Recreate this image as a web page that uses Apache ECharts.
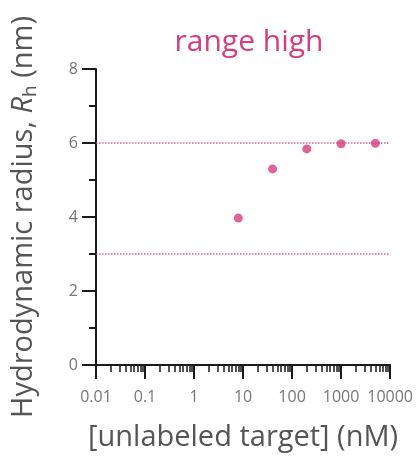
<!DOCTYPE html>
<html>
<head>
<meta charset="utf-8">
<script src="https://cdn.jsdelivr.net/npm/echarts@6/dist/echarts.min.js"></script>
<style>
  html, body { margin: 0; padding: 0; background: #fff; }
  #chart { width: 416px; height: 459px; }
</style>
</head>
<body>
<div id="chart"></div>
<script>
// concentration (nM) and hydrodynamic radius (nm)
const concentrations = [8, 40, 200, 1000, 5000]
const radius = [3.97, 5.3, 5.84, 5.98, 5.99]
const refLines = [6, 3]
const xDecades = [-2, -1, 0, 1, 2, 3, 4]
const xTickLabels = ['0.01', '0.1', '1', '10', '100', '1000', '10000']

const pink = '#d63c7f'
const font = '"Open Sans", sans-serif'
const axisColor = '#1a1a1a'

// minor ticks at 2..9 within each decade (log10 space)
const minorTicks = []
xDecades.slice(0, -1).forEach((d) => {
  for (let k = 2; k <= 9; k++) minorTicks.push(d + Math.log10(k))
})

const chart = echarts.init(document.getElementById('chart'))

const option = {
  animation: false,
  title: {
    text: 'range high',
    left: 244,
    top: 22,
    textAlign: 'center',
    textStyle: { color: pink, fontSize: 30, fontWeight: 'normal', fontFamily: font }
  },
  grid: { left: 96, right: 24, top: 69, bottom: 94 },
  xAxis: [
    {
      type: 'value',
      min: -2,
      max: 4,
      interval: 1,
      name: '[unlabeled target] (nM)',
      nameLocation: 'middle',
      nameGap: 58,
      nameTextStyle: { color: '#555', fontSize: 29, fontFamily: font },
      axisLine: { show: true, onZero: false, lineStyle: { color: axisColor, width: 2 } },
      axisTick: { show: true, length: 14, lineStyle: { color: axisColor, width: 2 } },
      axisLabel: {
        color: '#777',
        fontSize: 16,
        fontFamily: font,
        margin: 24,
        formatter: (v) => xTickLabels[xDecades.indexOf(Math.round(v))] || ''
      },
      splitLine: { show: false }
    },
    {
      type: 'value',
      min: -2,
      max: 4,
      position: 'bottom',
      axisLine: { show: false },
      axisTick: { show: true, length: 7, customValues: minorTicks, lineStyle: { color: axisColor, width: 1.5 } },
      axisLabel: { show: false },
      splitLine: { show: false }
    }
  ],
  yAxis: {
    type: 'value',
    min: 0,
    max: 8,
    interval: 2,
    name: '{t|Hydrodynamic radius, }{i|R}{sub|h}{t| (nm)}',
    nameLocation: 'middle',
    nameGap: 56,
    nameRotate: 90,
    nameTextStyle: {
      rich: {
        t: { color: '#555', fontSize: 29, fontFamily: font },
        i: { color: '#555', fontSize: 29, fontFamily: font, fontStyle: 'italic' },
        sub: { color: '#555', fontSize: 19, fontFamily: font, padding: [14, 0, 0, 0] }
      }
    },
    axisLine: { show: true, onZero: false, lineStyle: { color: axisColor, width: 2 } },
    axisTick: { show: true, length: 14, lineStyle: { color: axisColor, width: 2 } },
    minorTick: { show: true, splitNumber: 2, length: 7, lineStyle: { color: axisColor, width: 2 } },
    axisLabel: { color: '#777', fontSize: 16, fontFamily: font, margin: 18 },
    splitLine: { show: false }
  },
  series: [
    {
      type: 'scatter',
      symbolSize: 9,
      itemStyle: { color: pink },
      data: concentrations.map((c, i) => [Math.log10(c), radius[i]]),
      markLine: {
        silent: true,
        symbol: 'none',
        label: { show: false },
        lineStyle: { color: pink, type: 'dotted', width: 1.5, opacity: 0.8 },
        data: refLines.map((v) => ({ yAxis: v }))
      }
    }
  ]
}

chart.setOption(option)
</script>
</body>
</html>
